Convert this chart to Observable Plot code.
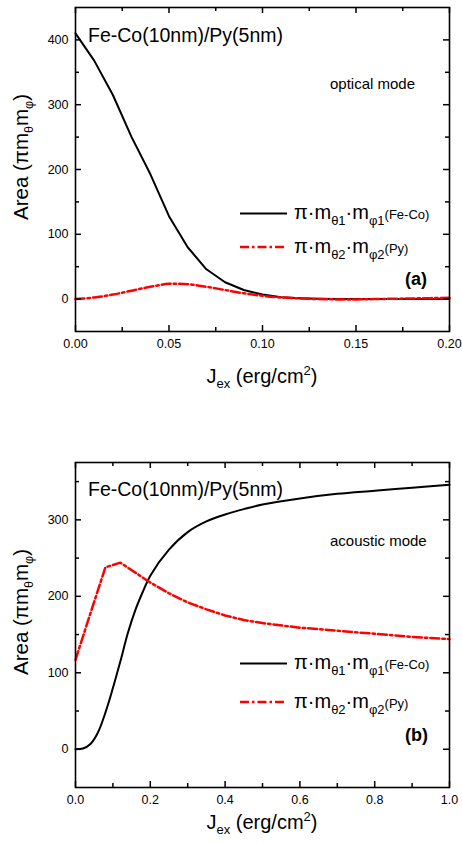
<!DOCTYPE html>
<html><head><meta charset="utf-8">
<script src="https://cdn.jsdelivr.net/npm/d3@7"></script>
<script src="https://cdn.jsdelivr.net/npm/@observablehq/plot@0.6"></script>
<style>
html,body{margin:0;padding:0;background:#fff;}
body{width:462px;}
.panel{display:block;line-height:0;}
svg{display:block;}
</style></head>
<body><div id="pa" class="panel"></div><div id="pb" class="panel"></div>
<script>
// ---------- data: panel (a) optical mode ----------
const jexOptical = [0,0.01,0.02,0.03,0.04,0.05,0.06,0.07,0.08,0.09,0.10,0.11,0.12,0.13,0.14,0.15,0.16,0.17,0.18,0.19,0.20];
const feCoOptical = [410,368,315,250,193,128,80,46,26,14,7,3,1.5,0.5,0,0,0,0,0,0,0];
const pyOptical   = [0,2.5,7,13,19,23.5,23,19,14,9,5,2.5,1,0,-0.5,-0.5,0,0.5,1,1.5,2];

// ---------- data: panel (b) acoustic mode ----------
const jexAcousticFeCo = [0,0.02,0.04,0.06,0.08,0.10,0.12,0.14,0.16,0.18,0.20,0.25,0.30,0.35,0.40,0.45,0.50,0.60,0.70,0.80,0.90,1.00];
const feCoAcoustic    = [0,1,7,22,48,80,115,152,182,206,227,261,284,298,307,314,320,328,334,338,342,346];
const jexAcousticPy   = [0,0.04,0.08,0.12,0.16,0.20,0.25,0.30,0.35,0.40,0.45,0.50,0.60,0.70,0.80,0.90,1.00];
const pyAcoustic      = [117,178,238,244,231,218,204,192,183,175,169,165,159,155,151,147,144];

// ---------- ticks ----------
const xTicksA = [0,0.05,0.10,0.15,0.20];
const xMinorA = [0.025,0.075,0.125,0.175];
const yTicksA = [0,100,200,300,400];
const yMinorA = [50,150,250,350];
const xTicksB = [0,0.2,0.4,0.6,0.8,1.0];
const xMinorB = [0.1,0.3,0.5,0.7,0.9];
const yTicksB = [0,100,200,300];
const yMinorB = [50,150,250,350];

const sampleName = "Fe-Co(10nm)/Py(5nm)";
const FONT = "'Liberation Sans', Arial, Helvetica, sans-serif";

function rows(xs, ys) { return xs.map((x, i) => ({x, y: ys[i]})); }

function drawPanel(o) {
  const T = 6, t = 4;
  const W = 462, ML = 75, MR = 13;
  const iw = W - ML - MR, ih = o.height - o.marginTop - o.marginBottom;
  const tk = {stroke: "black", strokeWidth: 1.5};
  const marks = [
    Plot.line(rows(o.xb, o.yb), {x: "x", y: "y", stroke: "black", strokeWidth: 2, curve: o.curveBlack}),
    Plot.line(rows(o.xr, o.yr), {x: "x", y: "y", stroke: "#ff0000", strokeWidth: 2.5, strokeDasharray: "9,3,2.5,3", curve: o.curveRed}),
    // tick labels
    Plot.axisX(o.xTicks, {anchor: "bottom", tickSize: 0, tickPadding: 8, tickFormat: d3.format(o.xFmt), label: null}),
    Plot.axisY(o.yTicks, {anchor: "left", tickSize: 0, tickPadding: 7, tickFormat: d3.format("d"), label: null}),
    // inward ticks on all four sides
    Plot.tickX(o.xTicks, {x: d => d, insetTop: ih - T, ...tk}),
    Plot.tickX(o.xMinor, {x: d => d, insetTop: ih - t, ...tk}),
    Plot.tickX(o.xTicks, {x: d => d, insetBottom: ih - T, ...tk}),
    Plot.tickX(o.xMinor, {x: d => d, insetBottom: ih - t, ...tk}),
    Plot.tickY(o.yTicks, {y: d => d, insetRight: iw - T, ...tk}),
    Plot.tickY(o.yMinor, {y: d => d, insetRight: iw - t, ...tk}),
    Plot.tickY(o.yTicks, {y: d => d, insetLeft: iw - T, ...tk}),
    Plot.tickY(o.yMinor, {y: d => d, insetLeft: iw - t, ...tk}),
    Plot.frame({stroke: "black", strokeWidth: 1.6})
  ];
  const svg = Plot.plot({
    width: W, height: o.height,
    marginLeft: ML, marginRight: MR, marginTop: o.marginTop, marginBottom: o.marginBottom,
    x: {domain: o.xDomain},
    y: {domain: o.yDomain},
    style: {fontFamily: FONT, fontSize: "12.5px", color: "black", background: "white", overflow: "visible"},
    marks
  });
  document.getElementById(o.id).appendChild(svg);
  return d3.select(svg);
}

// rich text helper: parts = [[text, size, shift]]
function richText(sel, x, y, parts, {anchor = "start", weight = "normal", rotate = 0} = {}) {
  const g = sel.append("text")
    .attr("transform", `translate(${x},${y}) rotate(${rotate})`)
    .attr("text-anchor", anchor)
    .attr("font-family", FONT)
    .attr("font-weight", weight)
    .attr("fill", "black");
  let prev = 0;
  for (const [txt, size, shift = 0] of parts) {
    g.append("tspan").attr("font-size", size).attr("dy", shift - prev).text(txt);
    prev = shift;
  }
  return g;
}

function decorate(svg, off, o) {
  const fx = 262; // frame centre x
  richText(svg, fx, o.xLabelY - off, [["J", 20], ["ex", 13, 5], [" (erg/cm", 20, 0], ["2", 13, -8], [")", 20, 0]], {anchor: "middle"});
  richText(svg, 28, o.yLabelY - off, [["Area (πm", 20.5], ["θ", 12.5, 5], ["m", 20.5, 0], ["φ", 12.5, 5], [")", 20.5, 0]], {anchor: "middle", rotate: -90});
  richText(svg, 88, o.nameY - off, [[sampleName, 19.5]]);
  richText(svg, 330, o.modeY - off, [[o.mode, 15]]);
  const lx1 = 240, lx2 = 287;
  svg.append("line").attr("x1", lx1).attr("x2", lx2).attr("y1", o.leg1 - off).attr("y2", o.leg1 - off)
    .attr("stroke", "black").attr("stroke-width", 2);
  svg.append("line").attr("x1", lx1).attr("x2", lx2).attr("y1", o.leg2 - off).attr("y2", o.leg2 - off)
    .attr("stroke", "#ff0000").attr("stroke-width", 2.5).attr("stroke-dasharray", "9,3,2.5,3");
  richText(svg, 294, o.leg1 + 5.5 - off, [["π·m", 20], ["θ1", 13, 6], ["·m", 20, 0], ["φ1", 13, 6], ["(Fe-Co)", 13, 0]]);
  richText(svg, 294, o.leg2 + 5.5 - off, [["π·m", 20], ["θ2", 13, 6], ["·m", 20, 0], ["φ2", 13, 6], ["(Py)", 13, 0]]);
  richText(svg, 405, o.tagY - off, [[o.tag, 18]], {weight: "bold"});
}

const a = drawPanel({
  id: "pa", height: 400, marginTop: 7, marginBottom: 69,
  xb: jexOptical, yb: feCoOptical, xr: jexOptical, yr: pyOptical,
  curveBlack: "linear", curveRed: "catmull-rom",
  xDomain: [0, 0.2], yDomain: [-50, 450],
  xTicks: xTicksA, xMinor: xMinorA, yTicks: yTicksA, yMinor: yMinorA, xFmt: ".2f"
});
decorate(a, 0, {xLabelY: 383, yLabelY: 157, nameY: 42, modeY: 89, mode: "optical mode", leg1: 213.5, leg2: 247, tag: "(a)", tagY: 285});

const b = drawPanel({
  id: "pb", height: 443, marginTop: 62, marginBottom: 56,
  xb: jexAcousticFeCo, yb: feCoAcoustic, xr: jexAcousticPy, yr: pyAcoustic,
  curveBlack: "catmull-rom", curveRed: "linear",
  xDomain: [0, 1], yDomain: [-50, 375],
  xTicks: xTicksB, xMinor: xMinorB, yTicks: yTicksB, yMinor: yMinorB, xFmt: ".1f"
});
decorate(b, 400, {xLabelY: 829, yLabelY: 612, nameY: 496, modeY: 546, mode: "acoustic mode", leg1: 663.5, leg2: 702, tag: "(b)", tagY: 741});
</script>
</body></html>
